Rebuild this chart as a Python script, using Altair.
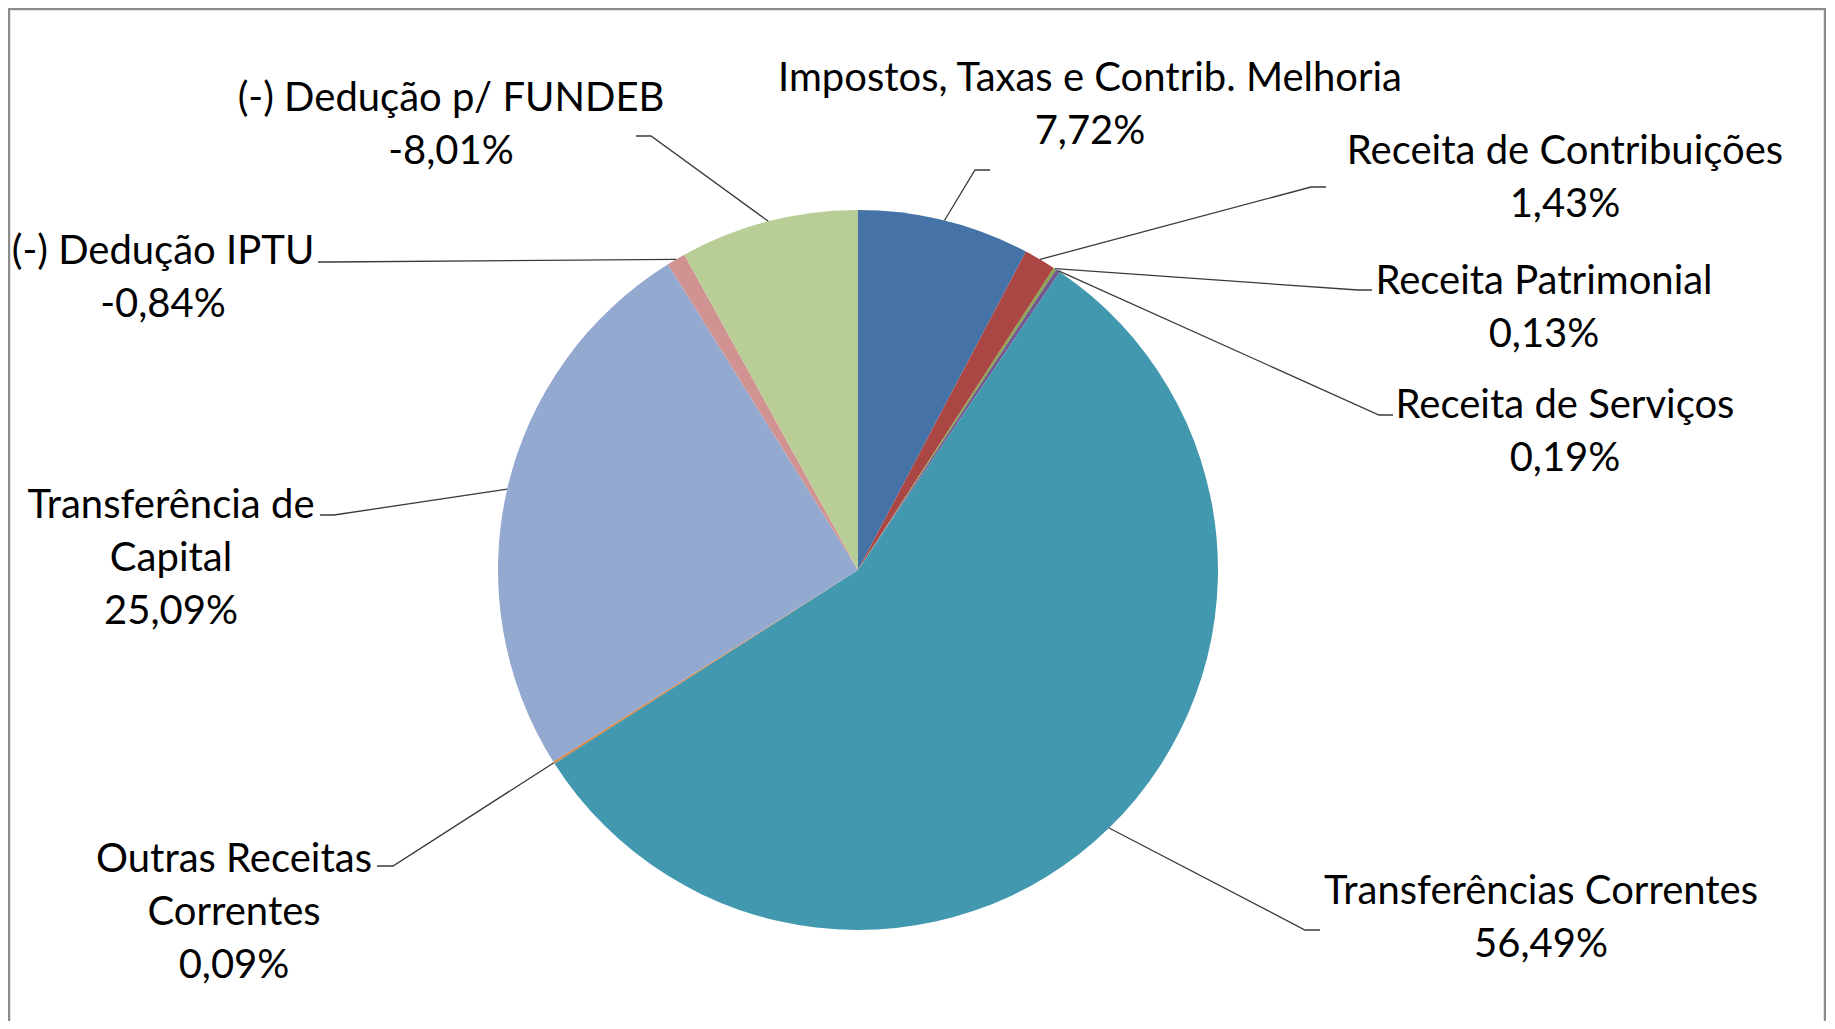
import math
import altair as alt
import pandas as pd

# ---------------- data ----------------
categories = [
    "Impostos, Taxas e Contrib. Melhoria",
    "Receita de Contribuições",
    "Receita Patrimonial",
    "Receita de Serviços",
    "Transferências Correntes",
    "Outras Receitas Correntes",
    "Transferência de Capital",
    "(-) Dedução IPTU",
    "(-) Dedução p/ FUNDEB",
]
values = [7.72, 1.43, 0.13, 0.19, 56.49, 0.09, 25.09, -0.84, -8.01]
label_lines = [
    ["Impostos, Taxas e Contrib. Melhoria"],
    ["Receita de Contribuições"],
    ["Receita Patrimonial"],
    ["Receita de Serviços"],
    ["Transferências Correntes"],
    ["Outras Receitas", "Correntes"],
    ["Transferência de", "Capital"],
    ["(-) Dedução IPTU"],
    ["(-) Dedução p/ FUNDEB"],
]
colors = ["#4572A7", "#AA4643", "#89A54E", "#71588F", "#4198AF",
          "#DB843D", "#93A9CF", "#D19392", "#B9CD96"]

# ---------------- layout (page pixels) ----------------
W, H = 1818, 1013
X0, Y0 = 8, 8
CX, CY, R = 858, 570, 360
FONT = "Lato"
FS = 40
LH = 53
TEXT_DY = 3
# first-line centre of each label
label_xy = [(1090, 76), (1565, 149), (1544, 279), (1565, 403), (1541, 889),
            (234, 857), (171, 503), (163, 249), (451, 96)]
# leader line elbow and end points
elbow_xy = [(975, 170), (1311, 187), (1358, 290), (1379, 415), (1305, 930),
            (393, 866), (334, 515), (330, 262), (651, 136)]
end_xy = [(990, 170), (1326, 187), (1372, 290), (1393, 415), (1320, 930),
          (377, 866), (320, 515), (318, 262), (636, 136)]

def fmt(v):
    return f"{v:.2f}".replace(".", ",") + "%"

absvals = [abs(v) for v in values]
total = sum(absvals)

pie_df = pd.DataFrame({
    "category": categories,
    "absval": absvals,
    "order": list(range(len(categories))),
    "cx": [CX] * len(categories),
    "cy": [CY] * len(categories),
})

text_rows = []
line_rows = []
cum = 0.0
for i, cat in enumerate(categories):
    mid = (cum + absvals[i] / 2) / total * 2 * math.pi
    cum += absvals[i]
    sx = CX + R * math.sin(mid)
    sy = CY - R * math.cos(mid)
    lines = label_lines[i] + [fmt(values[i])]
    lx, ly = label_xy[i]
    for k, t in enumerate(lines):
        text_rows.append({"x": lx, "y": ly + TEXT_DY + k * LH, "text": t})
    pts = [(sx, sy), elbow_xy[i], end_xy[i]]
    for k, (px, py) in enumerate(pts):
        line_rows.append({"id": i, "seq": k, "x": px, "y": py})

text_df = pd.DataFrame(text_rows)
line_df = pd.DataFrame(line_rows)

xs = alt.Scale(domain=[X0, X0 + W], nice=False, zero=False)
ys = alt.Scale(domain=[Y0, Y0 + H], nice=False, zero=False, reverse=True)

pie = alt.Chart(pie_df).mark_arc(radius=R).encode(
    theta=alt.Theta("absval:Q", stack=True),
    color=alt.Color("category:N", scale=alt.Scale(domain=categories, range=colors), legend=None),
    order=alt.Order("order:Q"),
    x=alt.X("cx:Q", scale=xs, axis=None),
    y=alt.Y("cy:Q", scale=ys, axis=None),
)

leaders = alt.Chart(line_df).mark_line(color="#3A3A3A", strokeWidth=1.3).encode(
    x=alt.X("x:Q", scale=xs, axis=None),
    y=alt.Y("y:Q", scale=ys, axis=None),
    detail="id:N",
    order="seq:Q",
)

labels = alt.Chart(text_df).mark_text(
    font=FONT, fontSize=FS, color="#000000", align="center", baseline="middle"
).encode(
    x=alt.X("x:Q", scale=xs, axis=None),
    y=alt.Y("y:Q", scale=ys, axis=None),
    text="text:N",
)

frame_col = "#8C8C8C"
top = alt.Chart(pd.DataFrame({"a": [0]})).mark_rule(color=frame_col, strokeWidth=2.5).encode(
    x=alt.value(0), x2=alt.value(W - 1), y=alt.value(1))
left = alt.Chart(pd.DataFrame({"a": [0]})).mark_rule(color=frame_col, strokeWidth=2.5).encode(
    x=alt.value(1), y=alt.value(0), y2=alt.value(H + 20))
right = alt.Chart(pd.DataFrame({"a": [0]})).mark_rule(color=frame_col, strokeWidth=2.5).encode(
    x=alt.value(W - 1), y=alt.value(0), y2=alt.value(H + 20))

chart = alt.layer(pie, leaders, labels, top, left, right).properties(
    width=W, height=H, padding=0, autosize=alt.AutoSizeParams(type="none"),
    background="white",
).configure_view(stroke=None)

chart.save("out.html", embed_options={"renderer": "svg", "actions": False})
